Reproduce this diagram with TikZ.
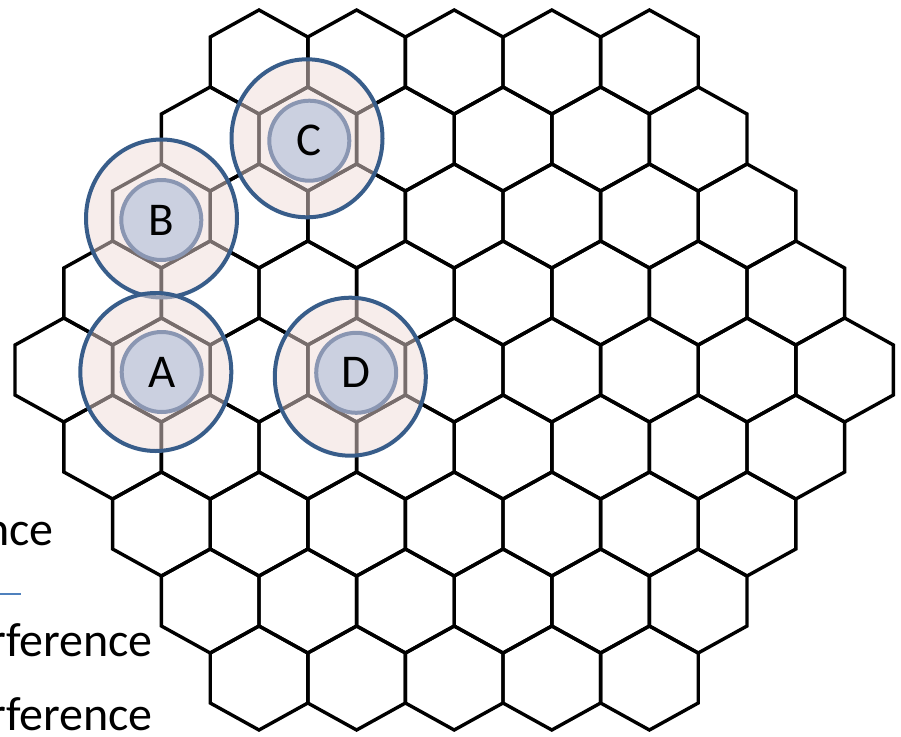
\documentclass[tikz,border=0pt]{standalone}
\usepackage{fontspec}
\setmainfont{Carlito}
\usepackage{xcolor}
\usepackage{tikz}
\usetikzlibrary{calc,positioning}

\definecolor{ringblue}{HTML}{385D8A}
\definecolor{zonepink}{HTML}{EFDBD8}
\definecolor{cellfill}{HTML}{CBD0E0}
\definecolor{celledge}{HTML}{8A96B2}
\definecolor{lineblue}{HTML}{4F81BD}

\tikzset{
  hexline/.style={black, line width=3.4pt, line join=miter},
  zone/.style={draw=ringblue, line width=4pt, fill=zonepink, fill opacity=0.5},
  site/.style={circle, draw=celledge, line width=4pt, fill=cellfill, minimum size=80pt, inner sep=0pt, font=\fontsize{47}{50}\selectfont},
  legendtext/.style={anchor=base east, inner sep=0pt, font=\fontsize{48}{58}\selectfont}
}

\begin{document}
\begin{tikzpicture}[x=1pt,y=-1pt]
  \useasboundingbox (0,0) rectangle (901,736);
  % 六边形网格, 每行 9-|r-4| 个
  \foreach \r in {0,...,8}{
    \pgfmathtruncatemacro{\off}{abs(\r-4)}
    \pgfmathtruncatemacro{\last}{8-\off}
    \foreach \k in {0,...,\last}{
      \pgfmathsetmacro{\cx}{63.8+\off*48.8+\k*97.6}
      \pgfmathsetmacro{\cy}{62+\r*77}
      \draw[hexline] (\cx,\cy) ++(0,-52) -- ++(48.8,27) -- ++(0,50) -- ++(-48.8,27) -- ++(-48.8,-27) -- ++(0,-50) -- cycle;
    }
  }
  % 干扰范围
  \draw[zone] (161.5,218.5) ellipse [x radius=75.5pt, y radius=79pt];
  \draw[zone] (155.8,372) ellipse [x radius=75.5pt, y radius=79pt];
  \draw[zone] (307,138.3) ellipse [x radius=75.5pt, y radius=79pt];
  \draw[zone] (350.3,376.7) ellipse [x radius=75.5pt, y radius=79pt];
  % 基站
  \node[site] (A) at (161.7,372) {A};
  \node[site] (B) at (161.3,220) {B};
  \node[site] (C) at (309.3,140.7) {C};
  \node[site] (D) at (356.2,372.8) {D};
  % 左边被截掉的文字
  \node[legendtext] (nce) at (54,545) {nce};
  \coordinate (rule start) at (-20,594);
  \coordinate (rule end) at (21,594);
  \draw[lineblue, line width=1.3pt] (rule start) -- (rule end);
  \node[legendtext] (rf one) at (153,656) {rference};
  \node[legendtext] (rf two) at (153,730) {rference};
\end{tikzpicture}
\end{document}
